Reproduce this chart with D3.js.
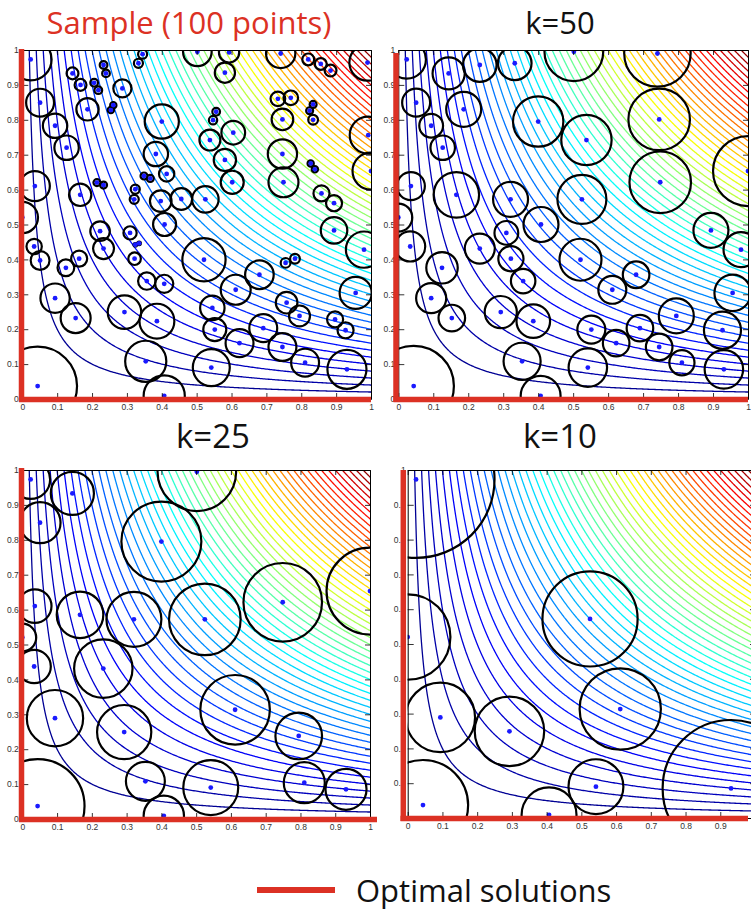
<!DOCTYPE html>
<html>
<head>
<meta charset="utf-8">
<script src="https://cdn.jsdelivr.net/npm/d3@7"></script>
<style>
body { margin: 0; background: #fff; }
</style>
</head>
<body>
<div id="chart"></div>
<script>

// sample points
var ptX = [0.024,0.051,0.144,0.167,0.233,0.240,0.206,0.218,0.287,0.187,
           0.254,0.261,0.333,0.345,0.502,0.593,0.581,0.741,0.820,0.856,
           0.884,0.990,0.094,0.127,0.400,0.556,0.547,0.538,0.605,0.581,
           0.602,0.383,0.414,0.349,0.367,0.324,0.321,0.214,0.233,0.036,
           0.166,0.000,0.397,0.456,0.525,0.408,0.223,0.233,0.309,0.324,
           0.335,0.322,0.034,0.051,0.163,0.125,0.094,0.153,0.357,0.407,
           0.293,0.386,0.521,0.354,0.407,0.044,0.542,0.545,0.552,0.612,
           0.680,0.623,0.691,0.746,0.758,0.755,0.782,0.795,0.811,0.897,
           0.927,0.931,0.956,0.980,0.894,0.858,0.894,0.827,0.839,0.749,
           0.746,0.746,0.733,0.770,0.824,0.834,0.834,0.992,1.000];
var ptY = [0.973,0.849,0.933,0.900,0.957,0.933,0.906,0.885,0.890,0.830,
           0.828,0.842,0.962,0.988,0.995,0.993,0.935,0.990,0.973,0.960,
           0.941,0.964,0.783,0.720,0.795,0.823,0.799,0.742,0.763,0.685,
           0.621,0.702,0.645,0.639,0.632,0.601,0.572,0.620,0.613,0.610,
           0.585,0.520,0.567,0.573,0.572,0.500,0.481,0.431,0.476,0.442,
           0.446,0.402,0.437,0.397,0.402,0.376,0.289,0.232,0.338,0.330,
           0.249,0.223,0.399,0.108,0.009,0.037,0.090,0.261,0.199,0.313,
           0.356,0.160,0.203,0.149,0.276,0.390,0.402,0.238,0.104,0.228,
           0.197,0.085,0.304,0.428,0.483,0.589,0.561,0.675,0.658,0.621,
           0.702,0.801,0.860,0.863,0.826,0.844,0.800,0.756,0.653];
var sampleR = [0.060,0.040,0.017,0.017,0.011,0.011,0.011,0.011,0.026,0.032,
               0.009,0.009,0.013,0.013,0.041,0.029,0.029,0.042,0.017,0.017,
               0.017,0.052,0.035,0.035,0.049,0.011,0.012,0.030,0.034,0.032,
               0.033,0.035,0.022,0.010,0.010,0.013,0.013,0.010,0.010,0.043,
               0.032,0.045,0.031,0.031,0.038,0.033,0.028,0.030,0.019,0.005,
               0.005,0.018,0.022,0.027,0.023,0.024,0.042,0.043,0.025,0.026,
               0.048,0.050,0.062,0.059,0.059,0.113,0.053,0.035,0.033,0.043,
               0.041,0.040,0.040,0.040,0.031,0.014,0.014,0.030,0.040,0.023,
               0.023,0.056,0.046,0.052,0.038,0.023,0.023,0.009,0.009,0.043,
               0.042,0.031,0.021,0.021,0.010,0.010,0.014,0.053,0.053];

// selected subsets (index into the sample) and their radii
var k50Idx = [0,2,4,12,14,17,1,9,22,23,24,27,91,89,98,39,40,36,44,45,41,48,47,51,52,
              55,58,62,69,70,84,83,82,56,57,60,61,68,71,72,73,77,78,80,81,63,66,64,65];
var k50R = [0.055,0.046,0.048,0.048,0.084,0.095,0.040,0.050,0.034,0.035,0.072,0.072,0.088,
            0.088,0.100,0.040,0.065,0.050,0.070,0.050,0.040,0.034,0.043,0.036,0.043,0.045,
            0.035,0.060,0.040,0.038,0.050,0.050,0.052,0.043,0.038,0.046,0.048,0.040,0.038,
            0.038,0.038,0.050,0.036,0.053,0.055,0.053,0.055,0.057,0.115];
var k25Idx = [0,2,1,14,24,39,40,36,44,89,98,41,52,47,56,60,69,77,63,66,78,81,64,65];
var k25R = [0.056,0.062,0.059,0.113,0.115,0.048,0.067,0.079,0.103,0.113,0.125,0.040,
            0.048,0.084,0.081,0.078,0.100,0.067,0.056,0.079,0.059,0.059,0.058,0.135];
var k10Idx = [0,41,56,60,44,69,66,64,65,81];
var k10R = [0.226,0.123,0.100,0.100,0.137,0.117,0.079,0.079,0.130,0.197];

var allIdx = ptX.map(function(d,i){ return i; });

// contour levels of f(x,y) = x*y
var levels = [0.02,0.04,0.06,0.08,0.10,0.12,0.14,0.16,0.18,0.20,0.22,0.24,0.26,0.28,0.30,
              0.32,0.34,0.36,0.38,0.40,0.42,0.44,0.46,0.48,0.50,0.52,0.54,0.56,0.58,0.60,
              0.62,0.64,0.66,0.68,0.70,0.72,0.74,0.76,0.78,0.80,0.82,0.84,0.86,0.88,0.90,
              0.92,0.94,0.96,0.98];
var tickVals = [0,0.1,0.2,0.3,0.4,0.5,0.6,0.7,0.8,0.9,1];
var titles = ["Sample (100 points)","k=50","k=25","k=10"];
var legendLabel = "Optimal solutions";

var red = "#dc3124";

var panels = [
  {title: titles[0], idx: allIdx, r: sampleR, x0: 22.3, x1: 371, y0: 50, y1: 399,
   tx: 189, ty: 34, tsize: 31, tcolor: red, lpad: 3.5, lastLabel: true,
   redL: 21.5, redLy0: 49, redLy1: 402, redB: 399.5, redBx0: 19, redBx1: 371},
  {title: titles[1], idx: k50Idx, r: k50R, x0: 398.3, x1: 748, y0: 50, y1: 399,
   tx: 560, ty: 34, tsize: 31, tcolor: "#111", lpad: 3, lastLabel: true,
   redL: 396, redLy0: 53, redLy1: 402, redB: 399.5, redBx0: 393.5, redBx1: 748},
  {title: titles[2], idx: k25Idx, r: k25R, x0: 22.3, x1: 370, y0: 470, y1: 819,
   tx: 213, ty: 448, tsize: 33, tcolor: "#111", lpad: 3.5, lastLabel: true,
   redL: 21.5, redLy0: 468, redLy1: 822, redB: 819.5, redBx0: 19, redBx1: 377},
  {title: titles[3], idx: k10Idx, r: k10R, x0: 407.7, x1: 755, y0: 470, y1: 818,
   tx: 560, ty: 448, tsize: 33, tcolor: "#111", lpad: 2, lastLabel: false,
   redL: 403.3, redLy0: 470, redLy1: 821, redB: 818.5, redBx0: 400.5, redBx1: 748}
];

function jet(t) {
  function c(v){ return Math.max(0, Math.min(1, v)); }
  var r = c(1.5 - Math.abs(4*t - 3)),
      g = c(1.5 - Math.abs(4*t - 2)),
      b = c(1.5 - Math.abs(4*t - 1));
  return d3.rgb(r*255, g*255, b*255).toString();
}

// grid for the contour lines
var n = 260, lo = -0.01, hi = 1.01, step = (hi - lo)/(n - 1);
var grid = new Array(n*n);
for (var j = 0; j < n; j++) {
  for (var i = 0; i < n; i++) {
    grid[j*n + i] = (lo + i*step) * (lo + j*step);
  }
}
var contourSet = d3.contours().size([n, n]).thresholds(levels)(grid);

var svg = d3.select("#chart")
  .append("svg")
    .attr("width", 751)
    .attr("height", 910);

var fmt = d3.format("~g");

panels.forEach(function(p, pi) {
  var x = d3.scaleLinear().domain([0, 1]).range([p.x0, p.x1]);
  var y = d3.scaleLinear().domain([0, 1]).range([p.y1, p.y0]);

  var clipId = "clip" + pi;
  svg.append("clipPath").attr("id", clipId)
    .append("rect")
      .attr("x", p.x0).attr("y", p.y0)
      .attr("width", p.x1 - p.x0).attr("height", p.y1 - p.y0);

  var g = svg.append("g");
  var plot = g.append("g").attr("clip-path", "url(#" + clipId + ")");

  var path = d3.geoPath(d3.geoTransform({
    point: function(gx, gy) {
      this.stream.point(x(lo + (gx - 0.5)*step), y(lo + (gy - 0.5)*step));
    }
  }));

  plot.selectAll("path.iso")
    .data(contourSet)
    .enter().append("path")
      .attr("class", "iso")
      .attr("d", path)
      .attr("fill", "none")
      .attr("stroke", function(d){ return jet(d.value); })
      .attr("stroke-width", 1.3);

  var pts = p.idx.map(function(k, m){ return {x: ptX[k], y: ptY[k], r: p.r[m]}; });

  plot.selectAll("circle.ball")
    .data(pts)
    .enter().append("circle")
      .attr("class", "ball")
      .attr("cx", function(d){ return x(d.x); })
      .attr("cy", function(d){ return y(d.y); })
      .attr("r", function(d){ return x(d.r) - x(0); })
      .attr("fill", "none")
      .attr("stroke", "#000")
      .attr("stroke-width", 2.2);

  plot.selectAll("circle.pt")
    .data(pts)
    .enter().append("circle")
      .attr("class", "pt")
      .attr("cx", function(d){ return x(d.x); })
      .attr("cy", function(d){ return y(d.y); })
      .attr("r", 2.4)
      .attr("fill", "#1a1aff");

  // axes, MATLAB style: ticks pointing inward on all four sides
  var xfmt = function(d){ return (d === 1 && !p.lastLabel) ? "" : fmt(d); };
  var top = g.append("g")
    .attr("transform", "translate(0," + p.y0 + ")")
    .call(d3.axisTop(x).tickValues(tickVals).tickSizeInner(-5).tickSizeOuter(0).tickFormat(""));
  var right = g.append("g")
    .attr("transform", "translate(" + p.x1 + ",0)")
    .call(d3.axisRight(y).tickValues(tickVals).tickSizeInner(-5).tickSizeOuter(0).tickFormat(""));
  var bottom = g.append("g")
    .attr("transform", "translate(0," + p.y1 + ")")
    .call(d3.axisBottom(x).tickValues(tickVals).tickSizeInner(-6).tickSizeOuter(0)
      .tickPadding(4.5).tickFormat(xfmt));
  var left = g.append("g")
    .attr("transform", "translate(" + p.x0 + ",0)")
    .call(d3.axisLeft(y).tickValues(tickVals).tickSizeInner(-6).tickSizeOuter(0)
      .tickPadding(p.lpad).tickFormat(fmt));

  [top, right, bottom, left].forEach(function(a) {
    a.selectAll("path.domain").attr("stroke", "#000").attr("stroke-width", 1);
    a.selectAll(".tick line").attr("stroke", "#000").attr("stroke-width", 0.8);
    a.selectAll(".tick text")
      .attr("font-size", 8.5)
      .attr("font-family", "Liberation Sans, Arial, sans-serif")
      .attr("fill", "#333");
  });

  // optimal solutions: the two axes
  g.append("line")
    .attr("x1", p.redL).attr("x2", p.redL)
    .attr("y1", p.redLy0).attr("y2", p.redLy1)
    .attr("stroke", red).attr("stroke-width", 5.5);
  g.append("line")
    .attr("x1", p.redBx0).attr("x2", p.redBx1)
    .attr("y1", p.redB).attr("y2", p.redB)
    .attr("stroke", red).attr("stroke-width", 5.5);

  g.append("text")
    .attr("x", p.tx).attr("y", p.ty)
    .attr("text-anchor", "middle")
    .attr("font-family", "Open Sans, sans-serif")
    .attr("font-size", p.tsize)
    .attr("fill", p.tcolor)
    .text(p.title);
});

// legend
svg.append("line")
  .attr("x1", 257).attr("x2", 335)
  .attr("y1", 890).attr("y2", 890)
  .attr("stroke", red).attr("stroke-width", 6);
svg.append("text")
  .attr("x", 356).attr("y", 902)
  .attr("font-family", "Open Sans, sans-serif")
  .attr("font-size", 31)
  .attr("fill", "#111")
  .text(legendLabel);

</script>
</body>
</html>
